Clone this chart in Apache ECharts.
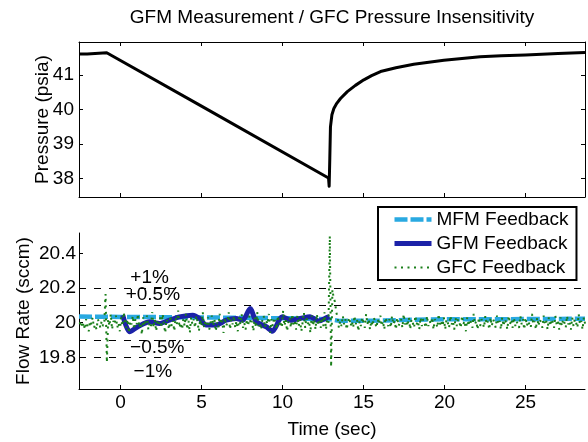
<!DOCTYPE html>
<html><head><meta charset="utf-8">
<script src="https://cdn.jsdelivr.net/npm/echarts@6/dist/echarts.min.js"></script>
<style>html,body{margin:0;padding:0;background:#fff}#c{width:588px;height:442px}</style>
</head><body><div id="c"></div>
<script>
// ---------- data ----------
const titleText = 'GFM Measurement / GFC Pressure Insensitivity';
const xTicks = [0, 5, 10, 15, 20, 25];
const pressTicks = [38, 39, 40, 41];
const flowTicks = [19.8, 20, 20.2, 20.4];

const pressTime  = [-2.56, -2.05, -1.95, -0.85, 5.0, 12.84, 12.88, 12.92, 12.96, 13.05, 13.17, 13.35, 13.58, 14.0, 14.5, 15.02, 15.5, 16.05, 17.0, 18.1, 19.96, 22.2, 23.5, 25.0, 27.0, 28.67];
const pressValue = [41.61, 41.61, 41.645, 41.645, 40.10, 38.02, 37.78, 38.6, 39.5, 39.85, 40.03, 40.18, 40.32, 40.52, 40.70, 40.86, 40.98, 41.10, 41.21, 41.31, 41.43, 41.53, 41.56, 41.58, 41.62, 41.65];

const mfmTime  = [-2.56, 0, 5, 10, 12.9, 13.5, 16, 20, 24, 28.67];
const mfmValue = [20.035, 20.033, 20.03, 20.025, 20.02, 20.01, 20.012, 20.02, 20.02, 20.022];

const gfmTime  = [0.14, 0.56, 1.07, 1.79, 2.41, 3.02, 3.64, 4.46, 4.88, 5.29, 5.9, 6.52, 7.14, 7.55, 8.0, 8.38, 9.0, 9.38, 9.98, 10.5, 11.1, 11.7, 12.24, 12.76, 12.9];
const gfmValue = [20.043, 19.947, 19.976, 20.005, 19.995, 20.014, 20.033, 20.043, 20.024, 19.986, 19.986, 20.014, 20.024, 20.014, 20.082, 20.005, 19.976, 19.950, 20.034, 20.014, 20.024, 20.034, 20.010, 20.030, 20.034];

const gfcStart = -2.52, gfcStep = 0.08;
const gfcValue = [
19.99,20.01,19.97,20.00,19.96,20.02,19.98,19.95,20.01,19.99,20.03,19.97,19.99,19.96,20.02,20.00,19.97,20.01,19.98,20.00,
20.165,19.77,
20.02,19.98,20.05,19.96,20.01,19.99,20.04,19.97,20.00,19.95,
20.03,19.98,20.06,20.00,19.97,20.02,19.94,20.01,19.99,20.04,
19.96,20.02,19.99,20.05,19.97,20.00,19.93,20.03,19.98,20.01,
20.04,19.96,20.00,19.98,20.06,19.97,20.02,19.95,20.01,19.99,
20.03,19.97,20.05,19.99,19.94,20.02,20.00,19.96,20.04,19.98,
20.01,19.95,20.03,19.99,20.07,19.97,20.00,19.96,20.02,19.98,
20.05,19.96,20.01,19.94,20.03,19.99,20.02,19.97,20.04,20.00,
19.95,20.02,19.98,20.06,19.97,20.01,19.99,20.03,19.96,20.00,
20.04,19.98,20.02,19.95,20.00,19.97,20.05,19.99,20.01,19.94,
20.03,19.98,20.00,20.06,19.96,20.02,19.99,20.04,19.97,20.01,
19.95,20.03,19.99,20.05,19.97,20.00,19.96,20.02,19.98,20.04,
19.99,20.01,19.95,20.03,19.97,20.06,19.98,20.00,19.96,20.02,
20.04,19.97,20.01,19.99,20.05,19.94,20.02,19.98,20.03,20.00,
19.96,20.04,19.99,20.01,19.97,20.07,19.98,20.02,19.95,20.00,
20.03,19.97,20.05,19.99,20.01,19.96,20.04,19.98,20.02,19.95,
20.00,20.06,19.97,20.03,19.99,20.01,19.94,20.04,19.98,20.02,
19.96,20.05,19.99,20.01,19.97,20.03,19.98,20.06,19.96,20.02,20.00,
20.50,19.745,20.19,20.14,20.12,20.06,
20.03,19.97,20.01,19.98,20.04,19.99,20.02,19.96,20.00,20.03,
19.98,20.01,19.97,20.04,19.99,20.02,19.95,20.01,19.98,20.03,
20.00,19.97,20.05,19.99,20.02,19.96,20.01,19.98,20.03,20.00,
19.97,20.02,19.99,20.04,19.98,20.01,19.96,20.03,20.00,19.98,
20.02,19.97,20.04,19.99,20.01,19.96,20.03,19.98,20.00,20.02,
19.97,20.05,19.99,20.01,19.98,20.03,19.96,20.02,20.00,19.97,
20.04,19.99,20.01,19.96,20.03,19.98,20.02,20.00,19.97,20.04,
19.98,20.01,19.99,20.03,19.96,20.02,20.00,19.97,20.05,19.99,
20.01,19.98,20.03,19.96,20.02,20.00,19.97,20.04,19.99,20.01,
19.96,20.03,19.98,20.02,20.00,19.97,20.04,19.99,20.01,19.95,
20.03,19.98,20.02,20.00,19.97,20.05,19.99,20.01,19.96,20.03,
19.98,20.02,20.00,19.97,20.04,19.99,20.01,19.96,20.03,19.98,
20.02,20.00,19.97,20.04,19.99,20.01,19.96,20.03,19.98,20.02,
20.00,19.96,20.04,19.99,20.02,19.97,20.03,19.98,20.01,20.00,
19.97,20.04,19.99,20.02,19.96,20.03,19.98,20.01,20.00,19.97,
20.05,19.99,20.01,19.96,20.03,19.98,20.02,20.00,19.97,20.04,
19.99,20.01,19.96,20.03,19.98,20.02,20.00,19.97,20.04,19.99,
20.01,19.96,20.03,19.98,20.02,20.00,19.97,20.04,19.99,20.01,
19.96,20.03,19.98,20.02,20.00,19.97,20.05,19.99,20.01,19.96,
20.03,19.99
];

const refLevels = [20.2, 20.1, 19.9, 19.8];
const pctText = ['+1%', '+0.5%', '\u22120.5%', '\u22121%'];
const pctX = [1.8, 2.0, 2.27, 2.0];
const pctY = [20.26, 20.16, 19.853, 19.714];

const legendNames = ['MFM Feedback', 'GFM Feedback', 'GFC Feedback'];
// ---------- chart ----------
const FONT = 'Liberation Sans, Arial, sans-serif';
const FS = 19;
const zip = (a, b) => a.map((v, i) => [v, b[i]]);
const gfcData = gfcValue.map((v, i) => [gfcStart + i * gfcStep, v]);

const xMin = -2.56, xMax = 28.67;
const axLine = {show: true, onZero: false, lineStyle: {color: '#000', width: 1}};
const tick = (vals) => ({show: true, inside: true, length: 4, lineStyle: {color: '#000'}, customValues: vals});
const lab = (vals, m, fmt) => ({show: true, color: '#000', fontSize: FS, fontFamily: FONT, margin: m, customValues: vals, formatter: fmt});
const nameStyle = {fontSize: FS, fontFamily: FONT, color: '#000'};

const chart = echarts.init(document.getElementById('c'), null, {renderer: 'canvas'});
chart.setOption({
  animation: false,
  backgroundColor: '#fff',
  title: {text: titleText, left: 332, top: 8, padding: 0, textAlign: 'center',
    textStyle: {fontSize: FS, fontWeight: 'normal', color: '#000', fontFamily: FONT}},
  grid: [
    {left: 79, top: 42, width: 506, height: 155},
    {left: 79, top: 233, width: 506, height: 156}
  ],
  legend: {
    data: legendNames, orient: 'vertical', left: 378, top: 207,
    padding: [3, 8, 3, 14], itemGap: 5, itemWidth: 37, itemHeight: 14,
    backgroundColor: '#fff', borderColor: '#000', borderWidth: 2,
    textStyle: {fontSize: FS, fontFamily: FONT, color: '#000'},
    itemStyle: {opacity: 0},
    lineStyle: {width: 'inherit', opacity: 1}, selectedMode: false
  },
  xAxis: [
    {type: 'value', gridIndex: 0, position: 'bottom', min: xMin, max: xMax, axisLine: axLine, axisTick: tick(xTicks), axisLabel: {show: false}, splitLine: {show: false}},
    {type: 'value', gridIndex: 0, position: 'top', min: xMin, max: xMax, axisLine: axLine, axisTick: tick(xTicks), axisLabel: {show: false}, splitLine: {show: false}},
    {type: 'value', gridIndex: 1, position: 'bottom', min: xMin, max: xMax, axisLine: axLine, axisTick: tick(xTicks), axisLabel: lab(xTicks, 4, v => String(v)), splitLine: {show: false},
      name: 'Time (sec)', nameLocation: 'middle', nameGap: 31, nameMoveOverlap: false, nameTextStyle: nameStyle}
  ],
  yAxis: [
    {type: 'value', gridIndex: 0, position: 'left', min: 37.47, max: 41.955, axisLine: axLine, axisTick: tick(pressTicks), axisLabel: lab(pressTicks, 5, v => String(v)), splitLine: {show: false},
      name: 'Pressure (psia)', nameLocation: 'middle', nameGap: 27, nameMoveOverlap: false, nameTextStyle: nameStyle},
    {type: 'value', gridIndex: 0, position: 'right', min: 37.47, max: 41.955, axisLine: axLine, axisTick: tick(pressTicks), axisLabel: {show: false}, splitLine: {show: false}},
    {type: 'value', gridIndex: 1, position: 'left', min: 19.617, max: 20.517, axisLine: axLine, axisTick: tick(flowTicks), axisLabel: lab(flowTicks, 3, v => String(+v.toFixed(1))), splitLine: {show: false},
      name: 'Flow Rate (sccm)', nameLocation: 'middle', nameGap: 46, nameMoveOverlap: false, nameTextStyle: nameStyle}
  ],
  series: [
    {type: 'line', name: 'Pressure', xAxisIndex: 0, yAxisIndex: 0, data: zip(pressTime, pressValue), symbol: 'none',
      lineStyle: {color: '#000', width: 3, join: 'round'}, z: 3},
    {type: 'line', name: 'ref', xAxisIndex: 2, yAxisIndex: 2, data: [], symbol: 'none',
      markLine: {silent: true, symbol: 'none', label: {show: false},
        lineStyle: {color: '#000', width: 1, type: [7, 8]},
        data: refLevels.map(v => ({yAxis: v}))}},
    {type: 'line', name: legendNames[0], xAxisIndex: 2, yAxisIndex: 2, data: zip(mfmTime, mfmValue), symbol: 'none',
      lineStyle: {color: '#29a9e1', width: 4.5, type: [13, 3]}, itemStyle: {color: '#29a9e1'}, z: 3},
    {type: 'line', name: legendNames[1], xAxisIndex: 2, yAxisIndex: 2, data: zip(gfmTime, gfmValue), symbol: 'none', smooth: 0.25,
      lineStyle: {color: '#1c22a8', width: 5}, itemStyle: {color: '#1c22a8'}, z: 4},
    {type: 'line', name: legendNames[2], xAxisIndex: 2, yAxisIndex: 2, data: gfcData, symbol: 'none',
      lineStyle: {color: '#1a7f1a', width: 2, type: [2, 4.5]}, itemStyle: {color: '#1a7f1a'}, z: 5},
    {type: 'scatter', name: 'pct', xAxisIndex: 2, yAxisIndex: 2, symbolSize: 0, silent: true,
      itemStyle: {opacity: 1, color: '#000'},
      data: pctText.map((t, i) => ({name: t, value: [pctX[i], pctY[i]]})),
      label: {show: true, position: 'inside', formatter: p => p.name, color: '#000', opacity: 1, textBorderWidth: 0, textBorderColor: 'transparent', fontSize: FS, fontFamily: FONT}, z: 6}
  ]
});
</script></body></html>
